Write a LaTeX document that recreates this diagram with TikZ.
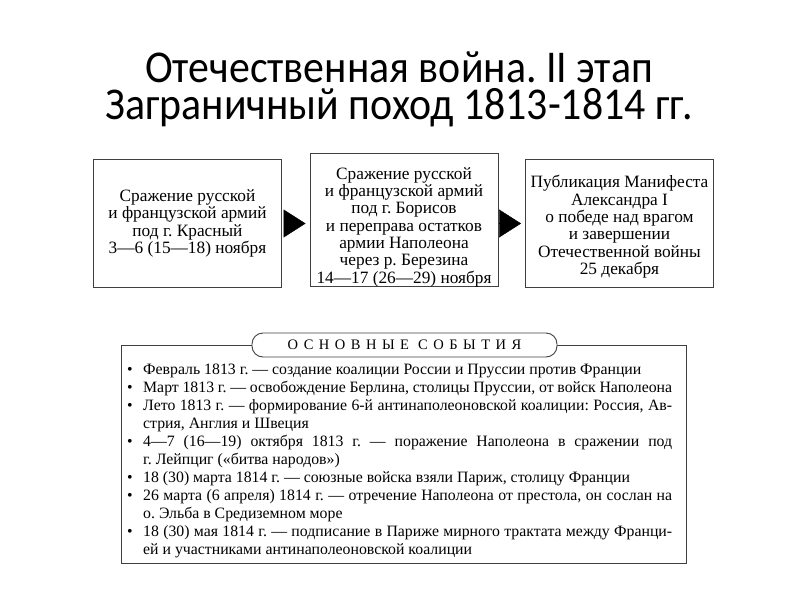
\documentclass[tikz,border=0pt]{standalone}
\usepackage{fontspec}
\setmainfont{Liberation Serif}
\newfontfamily\titlefont[FakeStretch=0.92]{Carlito}
\usetikzlibrary{arrows.meta}
\frenchspacing

\newcommand\evt{\par\noindent\hangindent=16pt\hangafter=1\makebox[16pt][l]{•}}

\tikzset{
  box/.style={draw=black!75, line width=0.9pt, rectangle, minimum width=188pt, minimum height=128pt, align=center, inner sep=0pt, font=\fontsize{17.3}{17.3}\selectfont},
  pointer/.style={-{Triangle[length=22pt,width=28pt]}, shorten <=2pt, shorten >=4pt},
}

\begin{document}
\begin{tikzpicture}[x=1pt,y=-1pt]
\useasboundingbox (0,0) rectangle (800,600);
\node[font=\titlefont\fontsize{45.5}{37}\selectfont, align=center] (0) at (399,89) {Отечественная война. II этап\\Заграничный поход 1813-1814 гг.};

\node[box] (1) at (187.5,223.5) {Сражение русской\\и французской армий\\под г. Красный\\3—6 (15—18) ноября};
\node[box, minimum height=126pt] (2) at (404,220) {\rule{0pt}{26pt}Сражение русской\\и французской армий\\под г. Борисов\\и переправа остатков\\армии Наполеона\\через р. Березина\\14—17 (26—29) ноября};
\node[box] (3) at (619.5,223.5) {\rule{0pt}{19pt}Публикация Манифеста\\Александра I\\о победе над врагом\\и завершении\\Отечественной войны\\25 декабря};

\draw[pointer] (1.east) -- (1.east -| 2.west);
\draw[pointer] (2.east |- 3.west) -- (3.west);

\node[draw=black!75, line width=0.9pt, rectangle, minimum width=565pt, minimum height=218pt] (4) at (403.5,454) {};
\node[draw=black!75, line width=0.9pt, fill=white, rounded corners=11pt, minimum width=305pt, minimum height=24pt, inner sep=0pt, font=\fontsize{14.5}{16}\selectfont\addfontfeature{LetterSpace=38}] (5) at (404.5,345) {ОСНОВНЫЕ СОБЫТИЯ};

\node[anchor=north west, text width=545pt, align=justify, inner sep=0pt, font=\fontsize{15.8}{18}\selectfont] (6) at (127,356) {\hyphenpenalty=10000
\evt Февраль 1813 г. — создание коалиции России и Пруссии против Франции
\evt Март 1813 г. — освобождение Берлина, столицы Пруссии, от войск Наполеона
\evt Лето 1813 г. — формирование 6-й антинаполеоновской коалиции: Россия, Ав-\linebreak стрия, Англия и Швеция
\evt 4—7 (16—19) октября 1813 г. — поражение Наполеона в сражении под\linebreak г. Лейпциг («битва народов»)
\evt 18 (30) марта 1814 г. — союзные войска взяли Париж, столицу Франции
\evt 26 марта (6 апреля) 1814 г. — отречение Наполеона от престола, он сослан на\linebreak о. Эльба в Средиземном море
\evt 18 (30) мая 1814 г. — подписание в Париже мирного трактата между Франци-\linebreak ей и участниками антинаполеоновской коалиции\par};
\end{tikzpicture}
\end{document}
